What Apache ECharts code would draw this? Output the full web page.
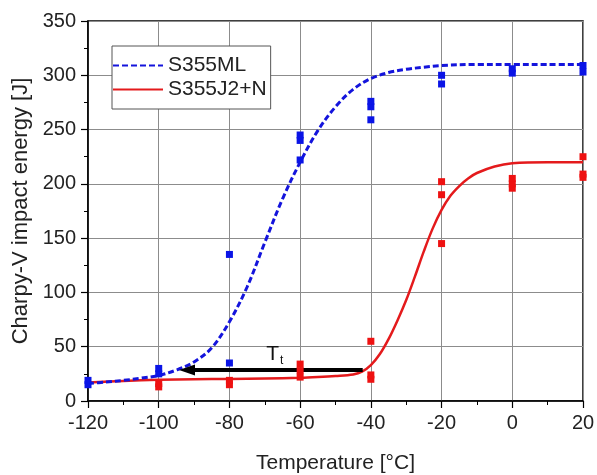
<!DOCTYPE html>
<html>
<head>
<meta charset="utf-8">
<script src="https://cdn.jsdelivr.net/npm/echarts@6/dist/echarts.min.js"></script>
<style>
html,body{margin:0;padding:0;background:#fff;}
#chart{width:597px;height:475px;}
</style>
</head>
<body>
<div id="chart"></div>
<script>
// ---- data ----
const xTicks = [-120, -100, -80, -60, -40, -20, 0, 20];
const yTicks = [0, 50, 100, 150, 200, 250, 300, 350];

const s355mlPoints = [[-120,15],[-120,19],[-100,25],[-100,30],[-80,35],[-80,135],[-60,222],[-60,240],[-60,245],[-40,259],[-40,271],[-40,276],[-20,292],[-20,300],[0,302],[0,306],[20,303],[20,309]];
const s355j2Points = [[-100,13],[-100,16],[-80,15],[-80,19],[-60,22],[-60,28],[-60,34],[-40,20],[-40,24],[-40,55],[-20,145],[-20,190],[-20,202],[0,196],[0,200],[0,205],[20,206],[20,209],[20,225]];

const s355mlCurve = [[-120,16],[-115,17.5],[-110,19],[-105,21],[-100,23.5],[-95,28.5],[-90,36],[-85,49],[-80,73],[-75,105],[-70,146],[-65,186],[-60,220],[-55,249],[-50,271],[-45,287],[-40,297],[-35,302.5],[-30,305.5],[-25,307.5],[-20,309],[-10,310],[0,310],[10,310],[20,310]];
const s355j2Curve = [[-120,17],[-110,18.5],[-100,19.5],[-90,20],[-80,20.3],[-70,20.7],[-60,21.3],[-55,22],[-50,23],[-45,24.5],[-42.5,27],[-40,33],[-37.5,43],[-35,57],[-32.5,74],[-30,93],[-27.5,115],[-25,138],[-22.5,159],[-20,176],[-17.5,189],[-15,198],[-12.5,205],[-10,210],[-5,216],[0,219],[10,220],[20,220]];

const arrowLine = [[-42.3,28.5],[-92,28.5]];

const seriesNames = ['S355ML', 'S355J2+N'];
const xName = 'Temperature [°C]';
const yName = 'Charpy-V impact energy [J]';

// ---- chart ----
const FONT = 'Liberation Sans, Arial, sans-serif';
const BLUE = '#1414dc';
const RED = '#e41a1c';
const chart = echarts.init(document.getElementById('chart'), null, {renderer:'canvas'});

const axisCommon = {
  axisLine:{onZero:false, lineStyle:{color:'#000', width:1.5}},
  axisTick:{show:true, length:7, lineStyle:{color:'#000', width:1.2}},
  minorTick:{show:true, splitNumber:2, length:4, lineStyle:{color:'#000', width:1}},
  splitLine:{show:true, lineStyle:{color:'#8c8c8c', width:1}},
  nameLocation:'middle'
};

chart.setOption({
  animation:false,
  backgroundColor:'#fff',
  grid:{left:88, right:14, top:21, bottom:74, show:true, borderColor:'#000', borderWidth:1.5, backgroundColor:'transparent', containLabel:false, outerBoundsMode:'none'},
  legend:{
    data:seriesNames, orient:'vertical', left:112, top:46,
    itemWidth:50, itemHeight:14, itemGap:3,
    padding:[9,4,9,0], borderColor:'#555', borderWidth:1, backgroundColor:'#fff',
    itemStyle:{opacity:0, borderWidth:0},
    textStyle:{fontSize:21, color:'#222', fontFamily:FONT}
  },
  xAxis:Object.assign({}, axisCommon, {
    type:'value', min:xTicks[0], max:xTicks[xTicks.length-1], interval:20,
    axisLabel:{fontSize:20, color:'#222', margin:12, fontFamily:FONT},
    name:xName, nameGap:52, nameTextStyle:{fontSize:21, color:'#222', fontFamily:FONT}
  }),
  yAxis:Object.assign({}, axisCommon, {
    type:'value', min:yTicks[0], max:yTicks[yTicks.length-1], interval:50,
    axisLabel:{fontSize:20, color:'#222', margin:12, fontFamily:FONT},
    name:yName, nameGap:53, nameRotate:90, nameTextStyle:{fontSize:22, color:'#222', fontFamily:FONT}
  }),
  series:[
    {name:seriesNames[1], type:'line', data:s355j2Curve, smooth:0.35, symbol:'none',
     lineStyle:{color:RED, width:2.5}, itemStyle:{color:RED}, z:2},
    {name:seriesNames[0], type:'line', data:s355mlCurve, smooth:0.35, symbol:'none',
     lineStyle:{color:BLUE, width:3, type:[6,3]}, itemStyle:{color:BLUE}, z:3},
    {name:'arrow', type:'line', data:arrowLine, symbol:'none', lineStyle:{opacity:0}, z:4,
     markLine:{silent:true, symbol:['none','triangle'], symbolSize:[11,16],
       lineStyle:{color:'#000', width:3.8, type:'solid'},
       label:{show:true, position:'middle', distance:3, formatter:'{a|T}{b|t}',
         rich:{a:{fontSize:21, color:'#111', fontFamily:FONT}, b:{fontSize:12, color:'#111', fontFamily:FONT, verticalAlign:'bottom', padding:[14,0,0,1]}}},
       data:[[{coord:arrowLine[0]},{coord:arrowLine[1]}]]}},
    {name:'S355J2+N data', type:'scatter', data:s355j2Points, symbol:'rect', symbolSize:7, itemStyle:{color:'#ee1111', opacity:1}, z:5},
    {name:'S355ML data', type:'scatter', data:s355mlPoints, symbol:'rect', symbolSize:7, itemStyle:{color:'#0a14e6', opacity:1}, z:6}
  ]
});
</script>
</body>
</html>
